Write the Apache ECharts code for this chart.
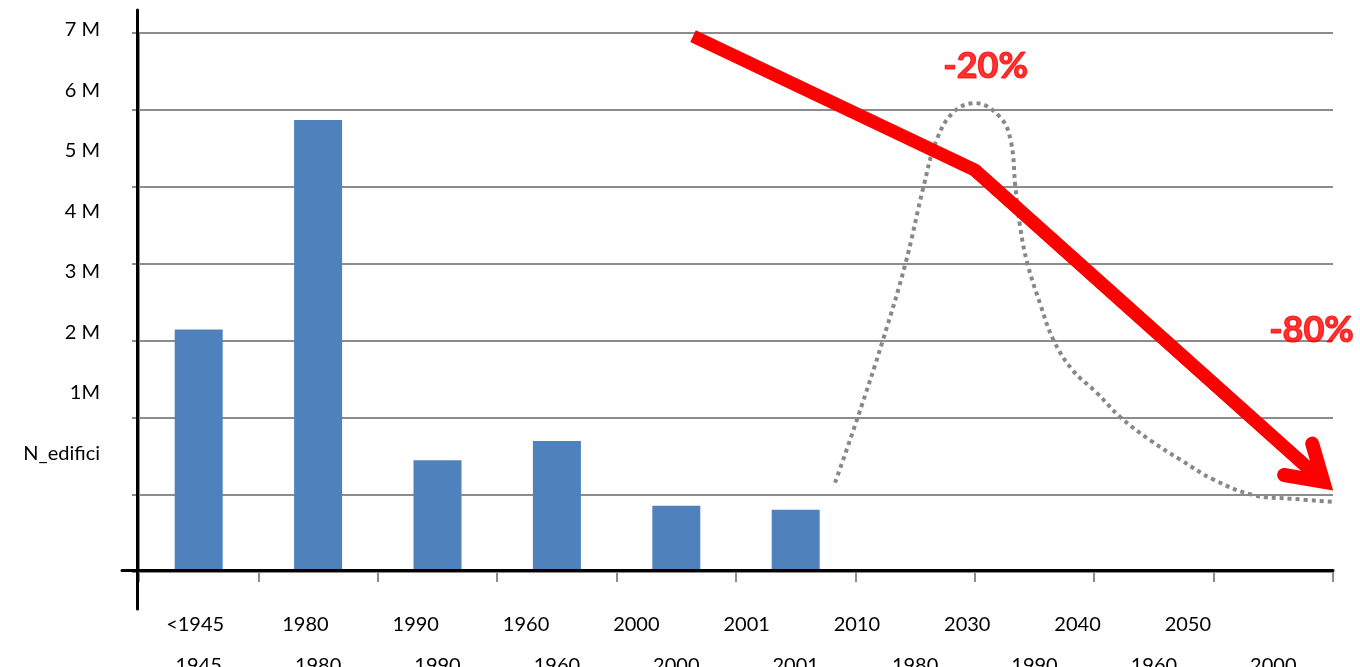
<!DOCTYPE html>
<html>
<head>
<meta charset="utf-8">
<script src="https://cdn.jsdelivr.net/npm/echarts@6/dist/echarts.min.js"></script>
<style>
html,body{margin:0;padding:0;background:#fff;}
#chart{width:1360px;height:667px;}
</style>
</head>
<body>
<div id="chart"></div>
<script>
// ---- data ----
const topLabels = ['<1945','1980','1990','1960','2000','2001','2010','2030','2040','2050'];
const barLabels = ['1945','1980','1990','1960','2000','2001','1980','1990','1960','2000'];
const barValues = [3.15, 5.87, 1.45, 1.70, 0.86, 0.81, 0.03, 0.03, 0.03, 0.03];
const yTickLabels = ['N_edifici','1M','2 M','3 M','4 M','5 M','6 M','7 M'];

// red trend arrow (x in category units, y in grid units)
const redX = [4.64, 7.00, 9.92];
const redY = [6.96, 5.22, 1.17];

// grey dotted curve
const curveX = [5.83, 6.02, 6.23, 6.42, 6.57, 6.68, 6.82, 7.00, 7.21, 7.30, 7.34, 7.38, 7.44, 7.55, 7.66, 7.82, 8.02, 8.22, 8.47, 8.72, 9.00, 9.33, 9.67, 10.0];
const curveY = [1.16, 2.01, 3.01, 4.01, 5.00, 5.61, 5.97, 6.09, 5.91, 5.61, 5.00, 4.48, 4.01, 3.47, 3.01, 2.62, 2.33, 2.01, 1.71, 1.46, 1.20, 1.00, 0.95, 0.91];

// annotations
const noteText = ['-20%', '-80%'];
const noteX = [7.09, 9.82];
const noteY = [6.57, 3.14];

const FONT = 'Lato';
const GRAY = '#8c8c8c';
const RED = '#ff0000';
// open chevron arrowhead, tip pointing up, symbol centre 13px behind the tip (square 86x86 box)
const chevron = 'path://M0,0 L27,43.2 A7,7 0 0,1 15.1,50.6 L0,26.4 L-15.1,50.6 A7,7 0 0,1 -27,43.2 Z ' +
                'M-43,-30 L-42.99,-30 L-43,-29.99 Z M43,56 L42.99,56 L43,55.99 Z';

const chart = echarts.init(document.getElementById('chart'), null, {renderer: 'canvas'});
const gridBase = {containLabel: false, outerBoundsMode: 'none'};
chart.setOption({
  animation: false,
  backgroundColor: '#ffffff',
  grid: [
    Object.assign({left: 139, right: 27, top: 33, bottom: 95}, gridBase),
    Object.assign({left: 139, right: 27, top: 30, bottom: 93}, gridBase),
    Object.assign({left: 137, right: 27, top: 10, bottom: 58}, gridBase),
    Object.assign({left: 122, right: 27, top: 33, bottom: 97}, gridBase),
    Object.assign({left: 140, right: 117, top: 33, bottom: 95}, gridBase)
  ],
  xAxis: [
    {gridIndex: 0, type: 'category', data: barLabels,
     axisLine: {onZero: false, lineStyle: {color: GRAY, width: 2}},
     axisTick: {show: true, length: 10, lineStyle: {color: GRAY, width: 2}},
     axisLabel: {margin: 84, fontSize: 20, color: '#000', fontFamily: FONT, interval: 0},
     splitLine: {show: false}},
    {gridIndex: 0, type: 'value', min: 0, max: 10, show: false},
    {gridIndex: 1, type: 'value', min: 0, max: 10, show: false},
    {gridIndex: 2, type: 'value', min: 0, max: 10, show: false},
    {gridIndex: 3, type: 'value', min: 0, max: 10, show: true, z: 5,
     axisLine: {show: true, onZero: false, lineStyle: {color: '#000', width: 3}},
     axisTick: {show: false}, axisLabel: {show: false}, splitLine: {show: false}},
    {gridIndex: 4, type: 'category', data: topLabels,
     axisLine: {show: false, onZero: false}, axisTick: {show: false}, splitLine: {show: false},
     axisLabel: {margin: 43, fontSize: 20, color: '#000', fontFamily: FONT, interval: 0}}
  ],
  yAxis: [
    {gridIndex: 0, type: 'value', min: 0, max: 7, interval: 1,
     axisLine: {show: true, onZero: false, lineStyle: {color: GRAY, width: 2}},
     axisTick: {show: true, length: 7, lineStyle: {color: GRAY, width: 2}},
     axisLabel: {show: false},
     splitLine: {show: true, lineStyle: {color: GRAY, width: 2}}},
    {gridIndex: 1, type: 'value', min: -2, max: 7, interval: 1,
     axisLine: {show: false, onZero: false}, axisTick: {show: false}, splitLine: {show: false},
     axisLabel: {margin: 39, fontSize: 20, color: '#000', fontFamily: FONT,
                 formatter: v => (v >= 0 && yTickLabels[Math.round(v)] !== undefined) ? yTickLabels[Math.round(v)] : ''}},
    {gridIndex: 2, type: 'value', min: 0, max: 10, show: true, z: 5,
     axisLine: {show: true, onZero: false, lineStyle: {color: '#000', width: 3}},
     axisTick: {show: false}, axisLabel: {show: false}, splitLine: {show: false}},
    {gridIndex: 3, type: 'value', min: 0, max: 10, show: false},
    {gridIndex: 4, type: 'value', min: 0, max: 10, show: false}
  ],
  series: [
    {type: 'bar', xAxisIndex: 0, yAxisIndex: 0, data: barValues, barWidth: 48,
     itemStyle: {color: '#4f81bd'}, z: 2},
    {type: 'line', xAxisIndex: 1, yAxisIndex: 0, clip: false,
     data: curveX.map((x, i) => [x, curveY[i]]), smooth: 0.4, symbol: 'none',
     lineStyle: {color: '#888888', width: 4, type: [4, 4]}, z: 3},
    {type: 'line', xAxisIndex: 1, yAxisIndex: 0, clip: false,
     data: redX.map((x, i) => [x, redY[i]]), symbol: 'none',
     lineStyle: {color: RED, width: 13, join: 'miter', cap: 'butt'}, z: 4},
    {type: 'lines', coordinateSystem: 'cartesian2d', xAxisIndex: 1, yAxisIndex: 0, clip: false,
     data: [{coords: [[redX[1], redY[1]], [redX[2], redY[2]]]}],
     symbol: ['none', chevron], symbolSize: 86,
     lineStyle: {color: RED, width: 13, opacity: 1, curveness: 0}, z: 4},
    {type: 'scatter', xAxisIndex: 1, yAxisIndex: 0, clip: false,
     data: noteText.map((t, i) => ({name: t, value: [noteX[i], noteY[i]]})),
     symbolSize: 1, itemStyle: {color: 'transparent'},
     label: {show: true, position: 'inside', formatter: p => p.name,
             color: RED, fontSize: 36, fontWeight: 'bold', fontFamily: FONT,
             textBorderColor: RED, textBorderWidth: 1.2}, z: 5}
  ]
});
</script>
</body>
</html>
